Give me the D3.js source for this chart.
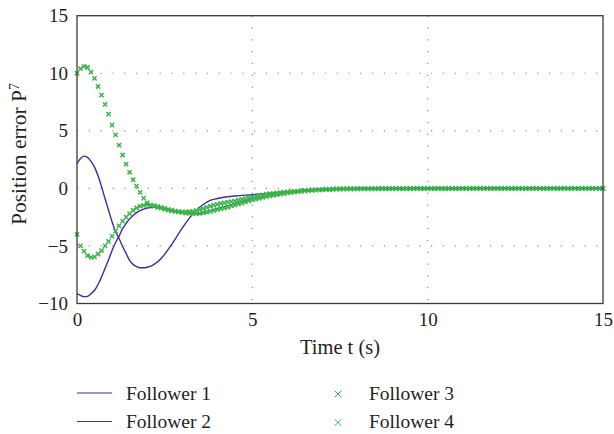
<!DOCTYPE html>
<html>
<head>
<meta charset="utf-8">
<script src="https://cdn.jsdelivr.net/npm/d3@7/dist/d3.min.js"></script>
<style>
  body { margin: 0; background: #fff; }
</style>
</head>
<body>
<div id="chart"></div>
<script>
// blue solid curves (followers 1, 2)
const lineT = [0, 0.1, 0.2, 0.3, 0.4, 0.5, 0.6, 0.7, 0.8, 0.9, 1.0, 1.1, 1.2, 1.3, 1.4, 1.5, 1.6, 1.7, 1.8, 1.9, 2.0,
  2.2, 2.4, 2.6, 2.8, 3.0, 3.2, 3.4, 3.6, 3.8, 4.0, 4.5, 5, 5.5, 6, 6.5, 7, 8, 9, 10, 12, 15];
const follower1 = [2.15, 2.6, 2.8, 2.7, 2.35, 1.85, 1.1, 0.15, -0.9, -1.9, -2.9, -3.75, -4.35, -5.05, -5.65, -6.25, -6.6, -6.8, -6.9, -6.9, -6.85,
  -6.6, -6.1, -5.3, -4.4, -3.45, -2.6, -1.9, -1.4, -1.05, -0.88, -0.66, -0.55, -0.42, -0.28, -0.15, -0.07, -0.02, 0, 0, 0, 0];
const follower2 = [-9.15, -9.3, -9.4, -9.38, -9.15, -8.85, -8.35, -7.7, -6.95, -6.2, -5.4, -4.7, -4.15, -3.5, -3.05, -2.65, -2.35, -2.1, -1.93, -1.8, -1.7,
  -1.65, -1.73, -1.85, -1.98, -2.08, -2.17, -2.2, -2.1, -1.92, -1.75, -1.35, -0.92, -0.62, -0.4, -0.22, -0.1, -0.03, 0, 0, 0, 0];

// green "x" markers (followers 3, 4), one sample every 0.1 s from 0 to 15 s
const markerStep = 0.1;
const follower3 = [
  10.0, 10.4, 10.6, 10.5, 10.1, 9.55, 8.85, 8.1, 7.3, 6.45,
  5.5, 4.65, 3.75, 2.9, 2.1, 1.4, 0.75, 0.2, -0.35, -0.85,
  -1.25, -1.45, -1.55, -1.65, -1.72, -1.8, -1.88, -1.95, -2.0, -2.03,
  -2.05, -2.05, -2.03, -2.0, -1.93, -1.85, -1.75, -1.65, -1.55, -1.45,
  -1.38, -1.3, -1.25, -1.2, -1.15, -1.1, -1.03, -0.96, -0.89, -0.82,
  -0.75, -0.69, -0.63, -0.57, -0.51, -0.46, -0.43, -0.4, -0.36, -0.33,
  -0.3, -0.28, -0.25, -0.23, -0.2, -0.18, -0.16, -0.14, -0.12, -0.1,
  -0.08, -0.07, -0.06, -0.05, -0.05, -0.04, -0.04, -0.03, -0.03, -0.03,
  -0.02, -0.02, -0.02, -0.02, -0.02, -0.02, -0.01, -0.01, -0.01, -0.01,
  -0.01, -0.01, -0.01, -0.01, -0.01, -0.01, 0, 0, 0, 0,
  0, 0, 0, 0, 0, 0, 0, 0, 0, 0,
  0, 0, 0, 0, 0, 0, 0, 0, 0, 0,
  0, 0, 0, 0, 0, 0, 0, 0, 0, 0,
  0, 0, 0, 0, 0, 0, 0, 0, 0, 0,
  0, 0, 0, 0, 0, 0, 0, 0, 0, 0,
  0];
const follower4 = [
  -4.0, -5.0, -5.45, -5.85, -6.0, -5.95, -5.7, -5.4, -5.0, -4.6,
  -4.15, -3.7, -3.25, -2.85, -2.5, -2.2, -1.9, -1.7, -1.55, -1.47,
  -1.42, -1.45, -1.5, -1.57, -1.65, -1.73, -1.82, -1.9, -1.97, -2.04,
  -2.1, -2.15, -2.18, -2.2, -2.2, -2.18, -2.13, -2.07, -2.0, -1.93,
  -1.85, -1.77, -1.7, -1.62, -1.53, -1.45, -1.36, -1.27, -1.18, -1.09,
  -1.0, -0.93, -0.86, -0.79, -0.72, -0.65, -0.6, -0.55, -0.5, -0.45,
  -0.4, -0.36, -0.32, -0.29, -0.25, -0.22, -0.2, -0.18, -0.16, -0.14,
  -0.12, -0.11, -0.1, -0.08, -0.07, -0.06, -0.05, -0.05, -0.04, -0.04,
  -0.03, -0.03, -0.03, -0.03, -0.03, -0.03, -0.02, -0.02, -0.02, -0.02,
  -0.02, -0.02, -0.02, -0.02, -0.02, -0.02, -0.01, -0.01, -0.01, -0.01,
  -0.01, -0.01, -0.01, -0.01, -0.01, -0.01, -0.01, -0.01, -0.01, -0.01,
  0, 0, 0, 0, 0, 0, 0, 0, 0, 0,
  0, 0, 0, 0, 0, 0, 0, 0, 0, 0,
  0, 0, 0, 0, 0, 0, 0, 0, 0, 0,
  0, 0, 0, 0, 0, 0, 0, 0, 0, 0,
  0];

const xTicks = [0, 5, 10, 15];
const yTicks = [-10, -5, 0, 5, 10, 15];
const legendNames = ['Follower 1', 'Follower 2', 'Follower 3', 'Follower 4'];

const blue = '#3b2f9a', green = '#3bb54a';
const serif = '"Liberation Serif", "Times New Roman", Times, "DejaVu Serif", serif';
let svgWidth = 614, svgHeight = 434,
    margin = {top: 15.7, right: 11, bottom: 130.5, left: 77},
    width = svgWidth - margin.left - margin.right,
    height = svgHeight - margin.top - margin.bottom;

let svg = d3.select('#chart').append('svg')
    .attr('width', svgWidth)
    .attr('height', svgHeight)
    .attr('font-family', serif);

let x = d3.scaleLinear().domain([0, 15]).range([0, width]),
    y = d3.scaleLinear().domain([-10, 15]).range([height, 0]);

let g = svg.append('g').attr('transform', `translate(${margin.left},${margin.top})`);

// dotted grid
g.selectAll('.gx').data(xTicks.slice(1, -1)).enter().append('line')
    .attr('x1', d => x(d)).attr('x2', d => x(d)).attr('y1', 0).attr('y2', height)
    .attr('stroke', '#8a8a8a').attr('stroke-width', 1.2).attr('stroke-dasharray', '1.2,10.6');
g.selectAll('.gy').data(yTicks.slice(1, -1)).enter().append('line')
    .attr('y1', d => y(d)).attr('y2', d => y(d)).attr('x1', 0).attr('x2', width)
    .attr('stroke', '#8a8a8a').attr('stroke-width', 1.2).attr('stroke-dasharray', '1.2,10.6');

// axes labels without tick marks
let xAxis = g.append('g').attr('transform', `translate(0,${height})`)
    .call(d3.axisBottom(x).tickValues(xTicks).tickSize(0).tickPadding(9).tickFormat(d3.format('d')));
let yAxis = g.append('g')
    .call(d3.axisLeft(y).tickValues(yTicks).tickSize(0).tickPadding(9).tickFormat(d => d < 0 ? '\u2212' + Math.abs(d) : d));
[xAxis, yAxis].forEach(a => {
    a.attr('font-family', serif).attr('font-size', 19);
    a.select('.domain').remove();
    a.selectAll('text').attr('fill', '#231f20');
});

// lines
let line = d3.line().x((d, i) => x(lineT[i])).y(d => y(d)).curve(d3.curveMonotoneX);
[follower1, follower2].forEach(s => {
    g.append('path').datum(s).attr('d', line)
        .attr('fill', 'none').attr('stroke', blue).attr('stroke-width', 1.4);
});

// x markers
const xMark = (s) => `M${-s},${-s}L${s},${s}M${-s},${s}L${s},${-s}`;
[follower3, follower4].forEach(s => {
    g.append('g').selectAll('path').data(s).enter().append('path')
        .attr('transform', (d, i) => `translate(${x(i * markerStep)},${y(d)})`)
        .attr('d', xMark(2.1))
        .attr('stroke', green).attr('stroke-width', 1.5).attr('fill', 'none');
});

// frame
g.append('rect').attr('width', width).attr('height', height)
    .attr('fill', 'none').attr('stroke', '#3a3a3a').attr('stroke-width', 1.3);

// axis titles
svg.append('text').attr('x', margin.left + width / 2).attr('y', 354)
    .attr('text-anchor', 'middle').attr('font-size', 20.5).attr('fill', '#231f20').text('Time t (s)');
let yl = svg.append('text').attr('transform', 'translate(26,154) rotate(-90)')
    .attr('text-anchor', 'middle').attr('font-size', 21.5).attr('fill', '#231f20');
yl.append('tspan').text('Position error P');
yl.append('tspan').attr('dy', -7.5).attr('font-size', 14).text('7');

// legend
let leg = svg.append('g');
legendNames.forEach((name, i) => {
    let col = Math.floor(i / 2), row = i % 2;
    let lx = col === 0 ? 77 : 338, ly = 393 + row * 28.5;
    if (col === 0) {
        leg.append('line').attr('x1', lx).attr('x2', lx + 35).attr('y1', ly).attr('y2', ly)
            .attr('stroke', blue).attr('stroke-width', 1.2);
    } else {
        leg.append('path').attr('transform', `translate(${lx},${ly + 1})`).attr('d', xMark(3.3))
            .attr('stroke', green).attr('stroke-width', 1).attr('fill', 'none');
    }
    leg.append('text').attr('x', col === 0 ? 126 : 369).attr('y', ly + 6.5)
        .attr('font-size', 19.5).attr('fill', '#231f20').text(name);
});
</script>
</body>
</html>
